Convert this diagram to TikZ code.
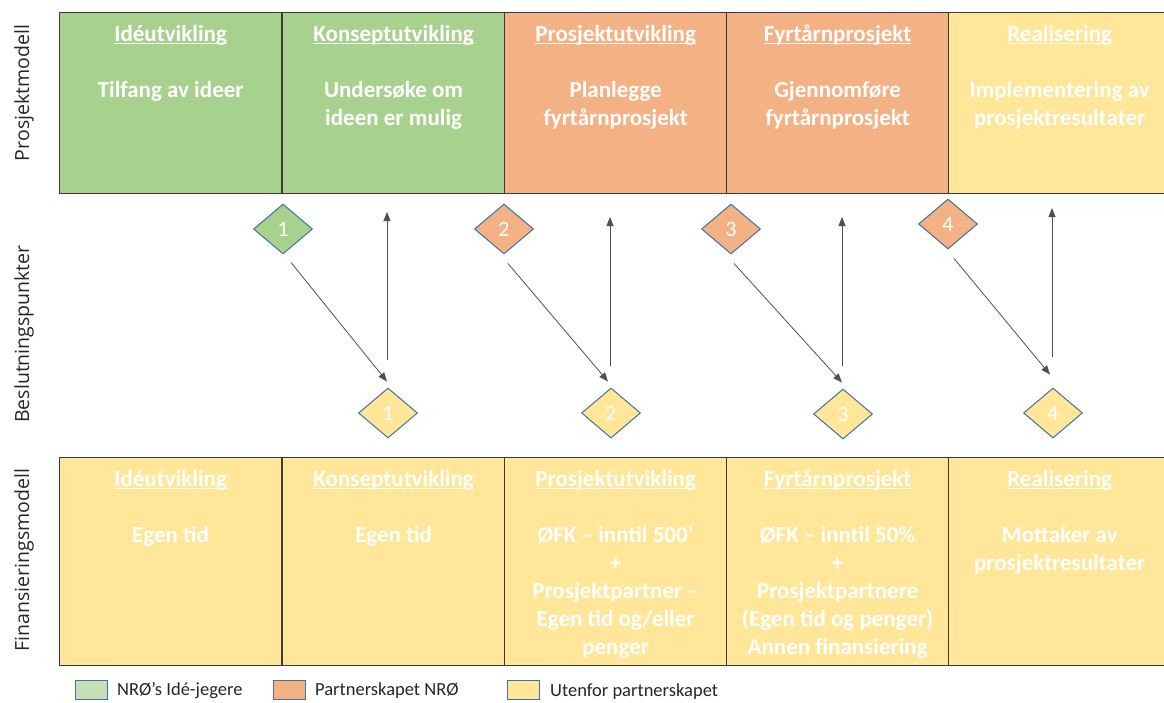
\documentclass[tikz,border=0pt]{standalone}
\usepackage{fontspec}
\setmainfont{Carlito}
\newfontfamily\sidefont{Open Sans}
\usetikzlibrary{shapes.geometric,arrows.meta}
\definecolor{cgreen}{HTML}{A9D18E}
\definecolor{corange}{HTML}{F4B183}
\definecolor{cyellow}{HTML}{FFE699}
\definecolor{lgreen}{HTML}{C5E0B4}
\definecolor{dblue}{HTML}{41719C}
\definecolor{cellline}{HTML}{3A3A3A}
\definecolor{arrline}{HTML}{505050}
\newcommand\celltext[1]{\begin{tabular}[t]{@{}c@{}}#1\end{tabular}}
\newcommand\cellhead[1]{\setbox0\hbox{#1}\rlap{\rule[-3.2pt]{\wd0}{1.3pt}}\box0}
\begin{document}
\begin{tikzpicture}[x=1pt,y=-1pt,
  cell/.style={draw=cellline, line width=1.3pt, minimum width=222pt, inner sep=0pt, anchor=north west},
  toprow/.style={cell, minimum height=181pt},
  botrow/.style={cell, minimum height=208pt},
  ctext/.style={anchor=base, inner sep=0pt, text=white, font=\fontsize{23}{28}\selectfont\bfseries},
  dia/.style={diamond, aspect=1.18, minimum width=59pt, minimum height=50pt, inner sep=0pt,
              draw=dblue, line width=1pt, text=white, font=\fontsize{22}{24}\selectfont},
  arr/.style={draw=arrline, line width=0.8pt, -{Triangle[length=9pt,width=7pt]}},
  side/.style={rotate=90, inner sep=0pt, text=black!85, font=\sidefont\fontsize{19.5}{24}\selectfont},
  legbox/.style={draw=dblue, line width=1pt, minimum width=32pt, minimum height=19pt, inner sep=0pt},
  legtext/.style={anchor=west, inner sep=0pt, text=black!85, font=\fontsize{18.5}{22}\selectfont}
]
\useasboundingbox (0,0) rectangle (1164,702);
\fill[white] (0,0) rectangle (1164,702);
\clip (0,0) rectangle (1164,702);

% side labels
\node[side] (lab1) at (24,93) {Prosjektmodell};
\node[side] (lab2) at (24,334) {Beslutningspunkter};
\node[side] (lab3) at (24,560) {Finansieringsmodell};

% top row
\node[toprow, fill=cgreen] (p1) at (59,12) {};
\node[toprow, fill=cgreen] (p2) at (282,12) {};
\node[toprow, fill=corange] (p3) at (504,12) {};
\node[toprow, fill=corange] (p4) at (726,12) {};
\node[toprow, fill=cyellow] (p5) at (948,12) {};

\node[ctext] (pt1) at ([yshift=-29pt]p1.north) {\celltext{\cellhead{Idéutvikling}\\ \\Tilfang av ideer}};
\node[ctext] (pt2) at ([yshift=-29pt]p2.north) {\celltext{\cellhead{Konseptutvikling}\\ \\Undersøke om\\ideen er mulig}};
\node[ctext] (pt3) at ([yshift=-29pt]p3.north) {\celltext{\cellhead{Prosjektutvikling}\\ \\Planlegge\\fyrtårnprosjekt}};
\node[ctext] (pt4) at ([yshift=-29pt]p4.north) {\celltext{\cellhead{Fyrtårnprosjekt}\\ \\Gjennomføre\\fyrtårnprosjekt}};
\node[ctext] (pt5) at ([yshift=-29pt]p5.north) {\celltext{\cellhead{Realisering}\\ \\Implementering av\\prosjektresultater}};

% bottom row
\node[botrow, fill=cyellow] (f1) at (59,457) {};
\node[botrow, fill=cyellow] (f2) at (282,457) {};
\node[botrow, fill=cyellow] (f3) at (504,457) {};
\node[botrow, fill=cyellow] (f4) at (726,457) {};
\node[botrow, fill=cyellow] (f5) at (948,457) {};

\node[ctext] (ft1) at ([yshift=-29pt]f1.north) {\celltext{\cellhead{Idéutvikling}\\ \\Egen tid}};
\node[ctext] (ft2) at ([yshift=-29pt]f2.north) {\celltext{\cellhead{Konseptutvikling}\\ \\Egen tid}};
\node[ctext] (ft3) at ([yshift=-29pt]f3.north) {\celltext{\cellhead{Prosjektutvikling}\\ \\ØFK – inntil 500’\\+\\Prosjektpartner –\\Egen tid og/eller\\penger}};
\node[ctext] (ft4) at ([yshift=-29pt]f4.north) {\celltext{\cellhead{Fyrtårnprosjekt}\\ \\ØFK – inntil 50\%\\+\\Prosjektpartnere\\(Egen tid og penger)\\Annen finansiering}};
\node[ctext] (ft5) at ([yshift=-29pt]f5.north) {\celltext{\cellhead{Realisering}\\ \\Mottaker av\\prosjektresultater}};

% decision diamonds
\node[dia, fill=cgreen] (d1) at (283,229) {1};
\node[dia, fill=corange] (d2) at (504,229) {2};
\node[dia, fill=corange] (d3) at (731,229) {3};
\node[dia, fill=corange] (d4) at (948,224) {4};
\node[dia, fill=cyellow] (b1) at (388,413) {1};
\node[dia, fill=cyellow] (b2) at (611,413) {2};
\node[dia, fill=cyellow] (b3) at (843,414) {3};
\node[dia, fill=cyellow] (b4) at (1053,413) {4};

% free ends of upward arrows
\coordinate (u1) at (387,212);
\coordinate (u2) at (610,217);
\coordinate (u3) at (842,217);
\coordinate (u4) at (1052,208);

% arrows
\draw[arr] ([xshift=8pt,yshift=-8pt]d1.south) -- ([xshift=-1pt,yshift=6pt]b1.north);
\draw[arr] ([xshift=-1pt,yshift=28pt]b1.north) -- (u1);
\draw[arr] ([xshift=4pt,yshift=-9pt]d2.south) -- ([xshift=-3pt,yshift=6pt]b2.north);
\draw[arr] ([xshift=-1pt,yshift=22pt]b2.north) -- (u2);
\draw[arr] ([xshift=3pt,yshift=-9pt]d3.south) -- ([xshift=-1pt,yshift=6pt]b3.north);
\draw[arr] ([xshift=-1pt,yshift=23pt]b3.north) -- (u3);
\draw[arr] ([xshift=6pt,yshift=-9pt]d4.south) -- ([xshift=-3pt,yshift=13pt]b4.north);
\draw[arr] ([xshift=-1pt,yshift=31pt]b4.north) -- (u4);

% legend
\node[legbox, fill=lgreen] (lg1) at (91,690) {};
\node[legtext] (lt1) at (117,691) {NRØ’s Idé-jegere};
\node[legbox, fill=corange] (lg2) at (289,690) {};
\node[legtext] (lt2) at (315,691) {Partnerskapet NRØ};
\node[legbox, fill=cyellow] (lg3) at (523,690) {};
\node[legtext] (lt3) at (550,692) {Utenfor partnerskapet};
\end{tikzpicture}
\end{document}
